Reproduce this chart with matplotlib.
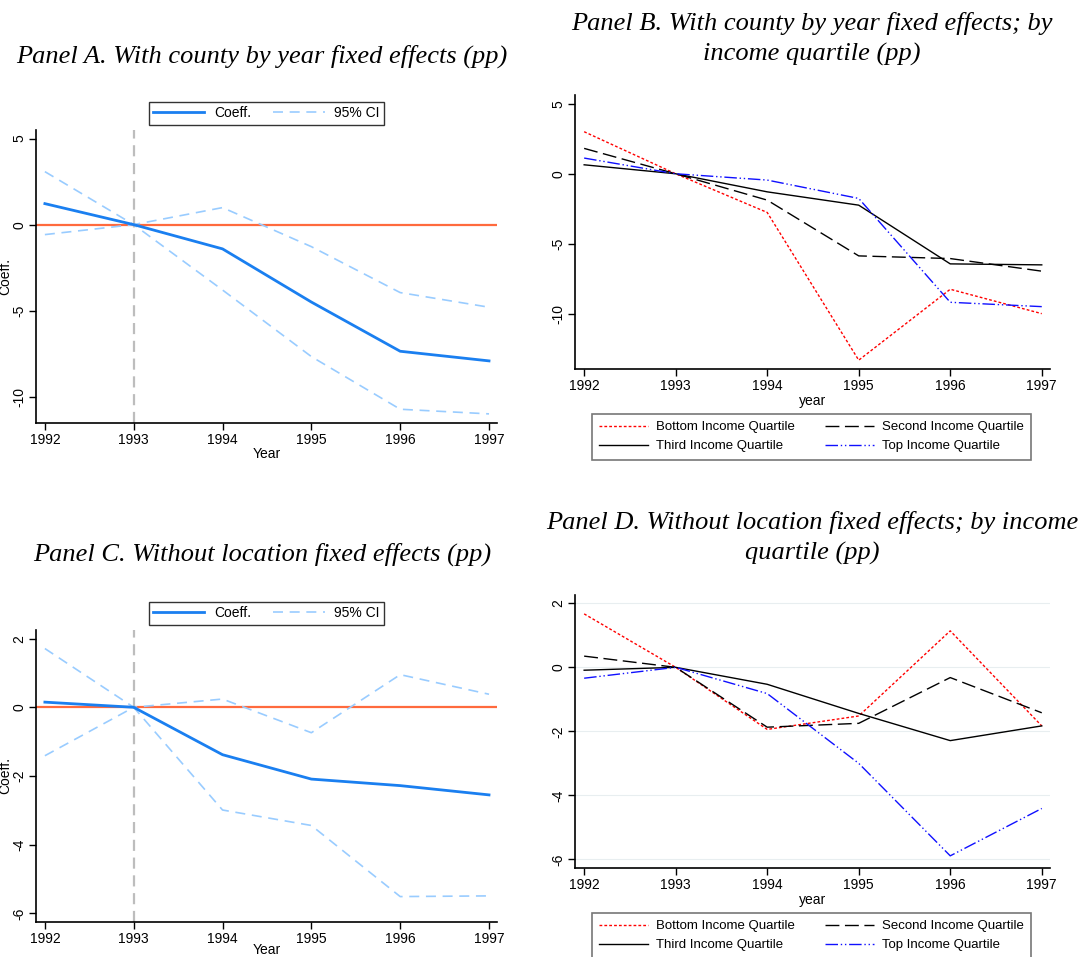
import matplotlib
matplotlib.use("Agg")
import matplotlib.pyplot as plt
import numpy as np

plt.rcParams['font.family'] = ['Liberation Sans', 'DejaVu Sans']

years = [1992, 1993, 1994, 1995, 1996, 1997]

# Panel A: with county by year fixed effects
a_coef = [1.22, 0.0, -1.41, -4.50, -7.36, -7.92]
a_hi = [3.08, 0.0, 0.99, -1.28, -3.95, -4.80]
a_lo = [-0.58, 0.0, -3.80, -7.67, -10.73, -11.00]

# Panel C: without location fixed effects
c_coef = [0.15, 0.0, -1.38, -2.09, -2.28, -2.55]
c_hi = [1.71, 0.0, 0.24, -0.74, 0.95, 0.38]
c_lo = [-1.41, 0.0, -2.99, -3.44, -5.51, -5.49]

# Panel B: by income quartile, county by year FE
b_bottom = [3.00, 0.0, -2.76, -13.30, -8.24, -9.98]
b_second = [1.81, 0.0, -1.88, -5.86, -6.05, -6.95]
b_third = [0.64, 0.0, -1.29, -2.24, -6.43, -6.50]
b_top = [1.12, 0.0, -0.45, -1.76, -9.17, -9.48]

# Panel D: by income quartile, no location FE
d_bottom = [1.67, 0.0, -1.94, -1.52, 1.14, -1.83]
d_second = [0.35, 0.0, -1.87, -1.75, -0.32, -1.42]
d_third = [-0.09, 0.0, -0.53, -1.44, -2.29, -1.83]
d_top = [-0.34, 0.0, -0.82, -3.00, -5.89, -4.41]

quart_labels = ['Bottom Income Quartile', 'Second Income Quartile',
                'Third Income Quartile', 'Top Income Quartile']

W, H = 1079, 957
fig = plt.figure(figsize=(W / 100, H / 100), dpi=100)


def box(l, t, r, b):
    return [l / W, 1 - b / H, (r - l) / W, (b - t) / H]


def style_axes(ax, yticks):
    ax.spines['top'].set_visible(False)
    ax.spines['right'].set_visible(False)
    ax.spines['left'].set_linewidth(1.2)
    ax.spines['bottom'].set_linewidth(1.2)
    ax.set_xticks(years)
    ax.set_yticks(yticks)
    ax.set_yticklabels([str(v) for v in yticks], rotation=90, va='center')
    ax.tick_params(labelsize=10, length=5, width=1, pad=2)
    ax.set_xlim(1991.9, 1997.09)


def coef_panel(ax, coef, hi, lo, ylim, yticks, xpad=0):
    ax.axhline(0, color='#ff6a3d', lw=1.6, zorder=1)
    ax.axvline(1993, color='#bdbdbd', lw=1.6, ls=(0, (5, 3)), zorder=1)
    l1, = ax.plot(years, coef, color='#1a7ff0', lw=2.0, zorder=3)
    l2, = ax.plot(years, hi, color='#99ccff', lw=1.2, ls=(0, (6, 4)), zorder=2)
    ax.plot(years, lo, color='#99ccff', lw=1.2, ls=(0, (6, 4)), zorder=2)
    ax.set_ylim(*ylim)
    style_axes(ax, yticks)
    ax.set_ylabel('Coeff.', fontsize=10)
    ax.yaxis.set_label_coords(-0.052, 0.5)
    ax.set_xlabel('Year', fontsize=10, labelpad=xpad)
    leg = ax.legend([l1, l2], ['Coeff.', '95% CI'], ncol=2, loc='lower center',
                    bbox_to_anchor=(0.5, 0.995), fontsize=10, frameon=True,
                    fancybox=False, edgecolor='black', handlelength=3.7,
                    columnspacing=1.6, borderpad=0.3, handletextpad=0.7)
    leg.get_frame().set_linewidth(1.0)


def quart_panel(ax, bottom, second, third, top, ylim, yticks, grid=False):
    if grid:
        for v in yticks:
            ax.axhline(v, color='#e8eef0', lw=0.8, zorder=0)
    h1, = ax.plot(years, bottom, color='red', lw=1.0, ls=(0, (2, 1.5)))
    h2, = ax.plot(years, second, color='black', lw=1.0, ls=(0, (10, 4)))
    h3, = ax.plot(years, third, color='black', lw=1.0)
    h4, = ax.plot(years, top, color='#1010ff', lw=1.0,
                  ls=(0, (9, 2, 1, 2, 1, 2)))
    ax.set_ylim(*ylim)
    style_axes(ax, yticks)
    ax.set_xlabel('year', fontsize=10, labelpad=1)
    # row-wise order like the original: bottom, second / third, top
    handles = [h1, h3, h2, h4]
    labels = [quart_labels[0], quart_labels[2], quart_labels[1], quart_labels[3]]
    leg = ax.legend(handles, labels, ncol=2, loc='upper center',
                    bbox_to_anchor=(0.498, -0.14), fontsize=9.5, frameon=True,
                    fancybox=False, edgecolor='#555555', handlelength=3.7,
                    columnspacing=2.3, borderpad=0.55, handletextpad=0.6,
                    labelspacing=0.5)
    leg.get_frame().set_linewidth(1.2)


axA = fig.add_axes(box(36, 130, 497, 423))
coef_panel(axA, a_coef, a_hi, a_lo, (-11.53, 5.5), [5, 0, -5, -10])

axC = fig.add_axes(box(36, 630, 497, 922))
coef_panel(axC, c_coef, c_hi, c_lo, (-6.25, 2.25), [2, 0, -2, -4, -6], xpad=-2)

axB = fig.add_axes(box(575, 95, 1050, 369))
quart_panel(axB, b_bottom, b_second, b_third, b_top, (-13.93, 5.62),
            [5, 0, -5, -10])

axD = fig.add_axes(box(575, 595, 1050, 868))
quart_panel(axD, d_bottom, d_second, d_third, d_top, (-6.27, 2.26),
            [2, 0, -2, -4, -6], grid=True)

tkw = dict(family=['Liberation Serif', 'DejaVu Serif'], style='italic',
           fontsize=19, ha='center', va='center')
fig.text(262 / W, 1 - 56 / H, 'Panel A. With county by year fixed effects (pp)', **tkw)
fig.text(812 / W, 1 - 39 / H,
         'Panel B. With county by year fixed effects; by\nincome quartile (pp)',
         linespacing=1.45, **tkw)
fig.text(262 / W, 1 - 554 / H, 'Panel C. Without location fixed effects (pp)', **tkw)
fig.text(812 / W, 1 - 538 / H,
         'Panel D. Without location fixed effects; by income\nquartile (pp)',
         linespacing=1.45, **tkw)

fig.savefig('out.png', dpi=100)
